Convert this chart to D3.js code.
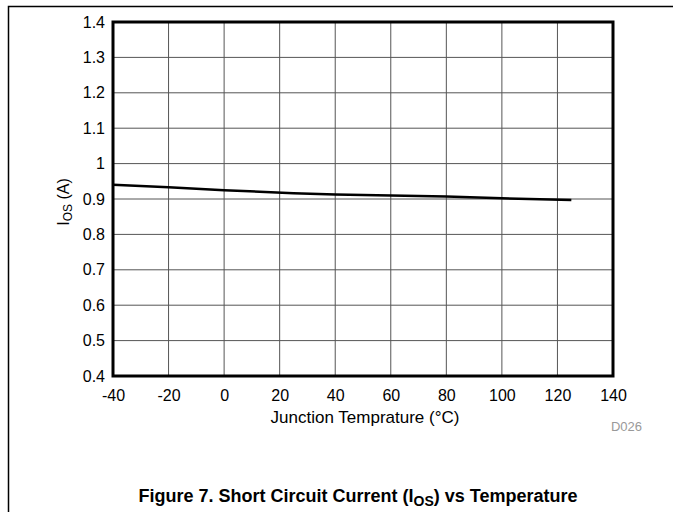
<!DOCTYPE html>
<html><head><meta charset="utf-8">
<script src="https://cdn.jsdelivr.net/npm/d3@7"></script>
<style>body{margin:0;background:#fff}svg{display:block}text{font-family:"Liberation Sans",Arial,sans-serif}</style>
</head><body>
<svg id="c" width="673" height="512"></svg>
<script>
const temps = [-40, -20, 0, 25, 40, 60, 80, 100, 125];
const ios = [0.940, 0.933, 0.925, 0.916, 0.913, 0.910, 0.907, 0.902, 0.897];
const xTicks = [-40, -20, 0, 20, 40, 60, 80, 100, 120, 140];
const yTicks = [0.4, 0.5, 0.6, 0.7, 0.8, 0.9, 1, 1.1, 1.2, 1.3, 1.4];

const svg = d3.select("#c");
const L = 113, R = 613, T = 22, B = 376;
const x = d3.scaleLinear().domain([-40, 140]).range([L, R]);
const y = d3.scaleLinear().domain([0.4, 1.4]).range([B, T]);
const FF = '"Liberation Sans",Arial,sans-serif';

// outer frame
svg.append("path").attr("d", "M8.5,520 V6.5 H680").attr("fill", "none").attr("stroke", "#000").attr("stroke-width", 1.5);

// grid
svg.append("g").selectAll("line").data(xTicks).join("line")
  .attr("x1", d => x(d)).attr("x2", d => x(d)).attr("y1", T).attr("y2", B)
  .attr("stroke", "#555").attr("stroke-width", 1);
svg.append("g").selectAll("line").data(yTicks).join("line")
  .attr("y1", d => y(d)).attr("y2", d => y(d)).attr("x1", L).attr("x2", R)
  .attr("stroke", "#555").attr("stroke-width", 1);

// axes labels
const xa = svg.append("g").attr("transform", `translate(0,${B})`)
  .call(d3.axisBottom(x).tickValues(xTicks).tickFormat(d => d).tickSize(0).tickPadding(14));
xa.select(".domain").remove();
xa.attr("font-size", null).attr("font-family", null);
xa.selectAll("text").style("font-size", "16px").attr("fill", "#000").style("font-family", FF);
const ya = svg.append("g").attr("transform", `translate(${L},0)`)
  .call(d3.axisLeft(y).tickValues(yTicks).tickFormat(d => d).tickSize(0).tickPadding(8));
ya.select(".domain").remove();
ya.attr("font-size", null).attr("font-family", null);
ya.selectAll("text").style("font-size", "16px").attr("fill", "#000").style("font-family", FF);

// plot border
svg.append("rect").attr("x", L).attr("y", T).attr("width", R - L).attr("height", B - T)
  .attr("fill", "none").attr("stroke", "#000").attr("stroke-width", 3);

// data line
svg.append("path").datum(temps.map((t, i) => [t, ios[i]]))
  .attr("d", d3.line().x(d => x(d[0])).y(d => y(d[1])))
  .attr("fill", "none").attr("stroke", "#000").attr("stroke-width", 2.5);

// titles
svg.append("text").attr("x", 365).attr("y", 423).attr("text-anchor", "middle")
  .style("font-size", "17px").text("Junction Temprature (°C)");
const yt = svg.append("text").attr("transform", `translate(69,${(T + B) / 2 + 3}) rotate(-90)`)
  .attr("text-anchor", "middle").style("font-size", "16px");
yt.append("tspan").text("I");
yt.append("tspan").style("font-size", "12px").attr("dy", 3).text("OS");
yt.append("tspan").attr("dy", -3).text(" (A)");

svg.append("text").attr("x", 642).attr("y", 431).attr("text-anchor", "end")
  .style("font-size", "13px").attr("fill", "#999").text("D026");

const cap = svg.append("text").attr("x", 358).attr("y", 502).attr("text-anchor", "middle")
  .style("font-size", "18px").attr("font-weight", "bold");
cap.append("tspan").text("Figure 7. Short Circuit Current (I");
cap.append("tspan").style("font-size", "14px").attr("dy", 4).text("OS");
cap.append("tspan").attr("dy", -4).text(") vs Temperature");
</script>
</body></html>
